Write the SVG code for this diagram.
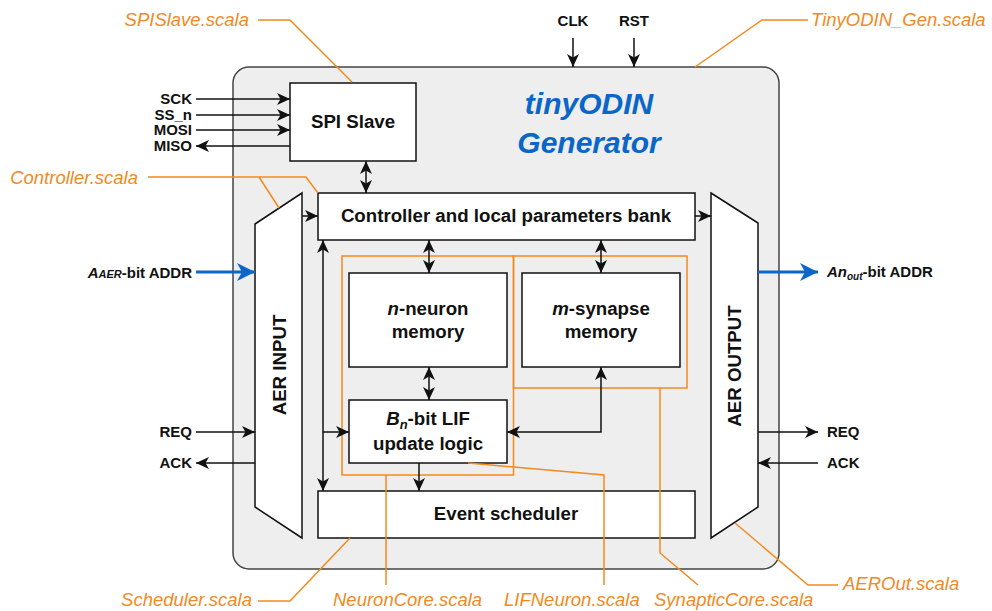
<svg xmlns="http://www.w3.org/2000/svg" width="992" height="611" viewBox="0 0 992 611">
  <style>
    .blk { fill: #ffffff; stroke: #111111; stroke-width: 1.5; }
    .lbl { font-family: "Liberation Sans", Arial, sans-serif; font-weight: bold; font-size: 18.7px; fill: #111111; }
    .sig { font-family: "Liberation Sans", Arial, sans-serif; font-weight: bold; font-size: 15px; fill: #111111; }
    .src { font-family: "Liberation Sans", Arial, sans-serif; font-style: italic; font-size: 18.5px; fill: #f08a24; }
    .ann { fill: none; stroke: #f5891f; stroke-width: 1.5; }
    .wire { fill: none; stroke: #111111; stroke-width: 1.5; }
    .bus { fill: none; stroke: #0a66c8; stroke-width: 3; }
    .title { font-family: "Liberation Sans", Arial, sans-serif; font-weight: bold; font-style: italic; font-size: 30px; fill: #0a66c8; }
  </style>
  <defs>
    <marker id="ah" viewBox="0 0 13 12" markerWidth="13" markerHeight="12" refX="13" refY="6" orient="auto-start-reverse" markerUnits="userSpaceOnUse">
      <path d="M0,0 L13,6 L0,12 L3.5,6 Z" fill="#111111"/>
    </marker>
    <marker id="bh" viewBox="0 0 18 18" markerWidth="18" markerHeight="18" refX="18" refY="9" orient="auto" markerUnits="userSpaceOnUse">
      <path d="M0,0 L18,9 L0,18 L5,9 Z" fill="#0a66c8"/>
    </marker>
  </defs>

  <!-- top-level generator block -->
  <g id="generator">
    <rect x="233" y="67" width="546" height="502" rx="16" fill="#eeeeee" stroke="#444444" stroke-width="1.5"/>
    <text class="title" x="589" y="114" text-anchor="middle">tinyODIN</text>
    <text class="title" x="589" y="153" text-anchor="middle">Generator</text>
  </g>

  <g id="spi-slave">
    <rect class="blk" x="290" y="83" width="126" height="78"/>
    <text class="lbl" x="353" y="128" text-anchor="middle">SPI Slave</text>
  </g>

  <g id="controller">
    <rect class="blk" x="318" y="193" width="377" height="47"/>
    <text class="lbl" x="506" y="222" text-anchor="middle">Controller and local parameters bank</text>
  </g>

  <g id="aer-input">
    <polygon class="blk" points="255,224 302,193 302,538 255,507"/>
    <text class="lbl" transform="translate(285.5,365) rotate(-90)" text-anchor="middle">AER INPUT</text>
  </g>

  <g id="aer-output">
    <polygon class="blk" points="711,193 758,223 758,507 711,538"/>
    <text class="lbl" transform="translate(740.5,366) rotate(-90)" text-anchor="middle">AER OUTPUT</text>
  </g>

  <g id="neuron-memory">
    <rect class="blk" x="349" y="273" width="158" height="94"/>
    <text class="lbl" x="428" y="315" text-anchor="middle"><tspan font-style="italic">n</tspan>-neuron</text>
    <text class="lbl" x="428" y="338" text-anchor="middle">memory</text>
  </g>

  <g id="synapse-memory">
    <rect class="blk" x="522" y="273" width="158" height="94"/>
    <text class="lbl" x="601" y="315" text-anchor="middle"><tspan font-style="italic">m</tspan>-synapse</text>
    <text class="lbl" x="601" y="338" text-anchor="middle">memory</text>
  </g>

  <g id="lif-logic">
    <rect class="blk" x="349" y="400" width="158" height="63"/>
    <text class="lbl" x="428" y="425" text-anchor="middle"><tspan font-style="italic">B</tspan><tspan font-style="italic" font-size="13" dy="4">n</tspan><tspan dy="-4">-bit LIF</tspan></text>
    <text class="lbl" x="428" y="450" text-anchor="middle">update logic</text>
  </g>

  <g id="event-scheduler">
    <rect class="blk" x="318" y="491" width="377" height="47"/>
    <text class="lbl" x="506" y="520" text-anchor="middle">Event scheduler</text>
  </g>

  <!-- external signal labels -->
  <g id="io-labels">
    <text class="sig" x="192" y="104" text-anchor="end">SCK</text>
    <text class="sig" x="192" y="120" text-anchor="end">SS_n</text>
    <text class="sig" x="192" y="135" text-anchor="end">MOSI</text>
    <text class="sig" x="192" y="151" text-anchor="end">MISO</text>
    <text class="sig" x="573" y="26" text-anchor="middle">CLK</text>
    <text class="sig" x="634" y="26" text-anchor="middle">RST</text>
    <text class="sig" x="192" y="278" text-anchor="end"><tspan font-style="italic">A</tspan><tspan font-style="italic" font-size="11">AER</tspan>-bit ADDR</text>
    <text class="sig" x="827" y="277"><tspan font-style="italic">An</tspan><tspan font-style="italic" font-size="10" dy="3">out</tspan><tspan dy="-3">-bit ADDR</tspan></text>
    <text class="sig" x="192" y="437" text-anchor="end">REQ</text>
    <text class="sig" x="192" y="468" text-anchor="end">ACK</text>
    <text class="sig" x="827" y="437">REQ</text>
    <text class="sig" x="827" y="468">ACK</text>
  </g>

  <!-- source-file annotations -->
  <g id="annotations">
    <rect class="ann" x="342" y="256" width="171.5" height="219"/>
    <rect class="ann" x="513.5" y="256" width="173.5" height="132"/>
    <path class="ann" d="M258,20 H290 L352,82"/>
    <path class="ann" d="M148,177 H306 L318,193 M259,177 L279,208"/>
    <path class="ann" d="M808,20 H762 L695,67"/>
    <path class="ann" d="M258,601 H290 L350,538"/>
    <path class="ann" d="M386,475 V585"/>
    <path class="ann" d="M468,463 L604,475 V585"/>
    <path class="ann" d="M660,388 V553 L698,585"/>
    <path class="ann" d="M735,523 L808,585 H838"/>
    <text class="src" x="249" y="26" text-anchor="end">SPISlave.scala</text>
    <text class="src" x="138" y="184" text-anchor="end">Controller.scala</text>
    <text class="src" x="811" y="26">TinyODIN_Gen.scala</text>
    <text class="src" x="252" y="606" text-anchor="end">Scheduler.scala</text>
    <text class="src" x="333" y="606">NeuronCore.scala</text>
    <text class="src" x="504" y="606">LIFNeuron.scala</text>
    <text class="src" x="654" y="606">SynapticCore.scala</text>
    <text class="src" x="843" y="590">AEROut.scala</text>
  </g>

  <!-- connectors -->
  <g id="connectors">
    <path class="wire" d="M196,99 H290" marker-end="url(#ah)"/>
    <path class="wire" d="M196,115 H290" marker-end="url(#ah)"/>
    <path class="wire" d="M196,130 H290" marker-end="url(#ah)"/>
    <path class="wire" d="M290,146 H196" marker-end="url(#ah)"/>
    <path class="wire" d="M366,161 V193" marker-start="url(#ah)" marker-end="url(#ah)"/>
    <path class="wire" d="M302,216 H318" marker-end="url(#ah)"/>
    <path class="wire" d="M695,216 H711" marker-end="url(#ah)"/>
    <path class="wire" d="M429,240 V273" marker-start="url(#ah)" marker-end="url(#ah)"/>
    <path class="wire" d="M601,240 V273" marker-start="url(#ah)" marker-end="url(#ah)"/>
    <path class="wire" d="M429,367 V400" marker-start="url(#ah)" marker-end="url(#ah)"/>
    <path class="wire" d="M601,367 V432 H507" marker-start="url(#ah)" marker-end="url(#ah)"/>
    <path class="wire" d="M323,240 V491" marker-start="url(#ah)" marker-end="url(#ah)"/>
    <path class="wire" d="M323,432 H349" marker-end="url(#ah)"/>
    <path class="wire" d="M419,463 V491" marker-end="url(#ah)"/>
    <path class="wire" d="M196,432 H255" marker-end="url(#ah)"/>
    <path class="wire" d="M255,463 H196" marker-end="url(#ah)"/>
    <path class="wire" d="M758,432 H818" marker-end="url(#ah)"/>
    <path class="wire" d="M818,463 H758" marker-end="url(#ah)"/>
    <path class="wire" d="M573,38 V67" marker-end="url(#ah)"/>
    <path class="wire" d="M634,38 V67" marker-end="url(#ah)"/>
    <path class="bus" d="M196,272 H255" marker-end="url(#bh)"/>
    <path class="bus" d="M758,272 H818" marker-end="url(#bh)"/>
  </g>
</svg>
